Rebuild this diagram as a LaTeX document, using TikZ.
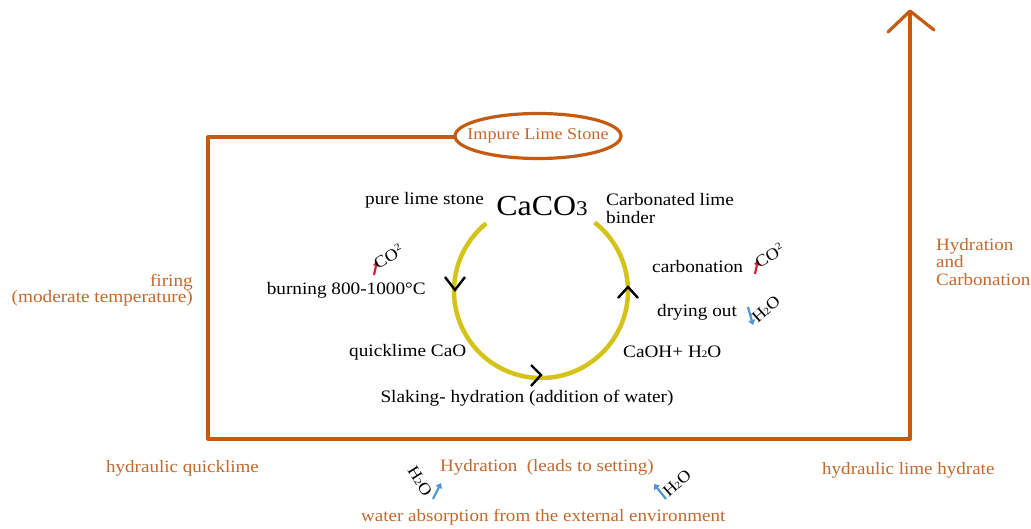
\documentclass[tikz,border=0pt]{standalone}
\usepackage{fontspec}
\setmainfont{Liberation Serif}[FakeStretch=1.1]
\usetikzlibrary{arrows.meta,shapes.geometric}
\definecolor{lineor}{RGB}{197,90,17}
\definecolor{textor}{RGB}{196,104,44}
\definecolor{cyc}{RGB}{212,196,26}
\definecolor{redar}{RGB}{220,30,50}
\definecolor{bluear}{RGB}{80,150,215}
\newcommand{\subtwo}{{\fontsize{10}{10}\selectfont 2}}
\newcommand{\suptwo}{\raisebox{6pt}{\fontsize{10}{10}\selectfont 2}}
\tikzset{
  lbl/.style={font=\fontsize{17.5}{18}\selectfont, text=black, inner sep=0pt},
  olbl/.style={font=\fontsize{17.3}{17.5}\selectfont, text=textor, inner sep=0pt},
  frame/.style={draw=lineor, line width=3.2pt},
  chev/.style={draw=black, line width=2.4pt},
  cycle/.style={draw=cyc, line width=4.5pt},
  small/.style={font=\fontsize{16.5}{16.5}\selectfont, inner sep=0pt},
  redarrow/.style={draw=redar, line width=2.2pt, -{Triangle[length=5pt,width=6pt]}},
  bluearrow/.style={draw=bluear, line width=2.2pt, -{Triangle[length=5pt,width=7pt]}}
}
\begin{document}
\begin{tikzpicture}[x=1pt,y=-1pt]
\useasboundingbox (0,0) rectangle (1031,529);
% frame
\node[inner sep=0pt, font=\fontsize{16.5}{18}\selectfont, text=textor] (impure) at (538,136) {Impure Lime Stone};
\draw[frame] (impure.center) ellipse [x radius=83, y radius=22.5];
\coordinate (ew) at (455,137);
\coordinate (tl) at (208,137);
\coordinate (bl) at (208,439);
\coordinate (br) at (910,439);
\coordinate (top) at (910,11);
\draw[frame, line join=round] (ew) -- (tl) -- (bl) -- (br) -- (top);
\draw[frame, line cap=round, line join=round] (888,32) -- (top) -- (934,30);
% cycle
\coordinate (c) at (541,291);
\draw[cycle] (c) ++(-129:87) arc[start angle=-129, end angle=-412, radius=87];
\draw[chev] (445,277) -- (455,290) -- (465,277);
\draw[chev] (531,365) -- (541,375) -- (531,386);
\draw[chev] (618,298) -- (628,287) -- (638,298);
% black labels
\node[lbl, anchor=east] (pure) at (484,200) {pure lime stone};
\node[font=\fontsize{29}{29}\selectfont, inner sep=0pt] (caco) at (542,206) {CaCO\raisebox{-0.5pt}{\fontsize{21}{21}\selectfont 3}};
\node[lbl, anchor=west, align=left] (carbbinder) at (606,209) {Carbonated lime\\binder};
\node[lbl, anchor=east] (burning) at (426,290) {burning 800-1000\textdegree C};
\node[lbl, anchor=west] (quick) at (349,352) {quicklime CaO};
\node[lbl] (slaking) at (527,398) {Slaking- hydration (addition of water)};
\node[lbl, anchor=west] (carbon) at (652,267) {carbonation};
\node[lbl, anchor=west] (drying) at (657,312) {drying out};
\node[lbl, anchor=west] (caoh) at (623,352) {CaOH+ H\subtwo O};
% small rotated gas labels
\draw[redarrow] (374,275) -- (377,261);
\node[small, rotate=30, anchor=south west] (co2a) at (378,270) {CO\suptwo};
\draw[redarrow] (755,274) -- (758,260);
\node[small, rotate=30, anchor=south west] (co2b) at (759,269) {CO\suptwo};
\draw[bluearrow] (748,307) -- (753,325);
\node[small, rotate=42, anchor=west] (h2oa) at (754,320) {H\subtwo O};
\node[small, rotate=-58] (h2ob) at (420,481) {H\subtwo O};
\draw[bluearrow] (433,499) -- (441,483);
\draw[bluearrow] (666,499) -- (654,484);
\node[small, rotate=42, anchor=west] (h2oc) at (665,494) {H\subtwo O};
% orange labels
\node[olbl, anchor=east, align=right, font=\fontsize{17.5}{16}\selectfont] (firing) at (193,290) {firing\\(moderate temperature)};
\node[olbl, anchor=west, align=left] (hydcarb) at (936,262) {Hydration\\and\\Carbonation};
\node[olbl, anchor=west] (hq) at (106,468) {hydraulic quicklime};
\node[olbl, anchor=west] (hyd) at (440,467) {Hydration\ \ (leads to setting)};
\node[olbl, anchor=west] (hlh) at (822,470) {hydraulic lime hydrate};
\node[olbl, anchor=west] (water) at (361,517) {water absorption from the external environment};
\end{tikzpicture}
\end{document}
